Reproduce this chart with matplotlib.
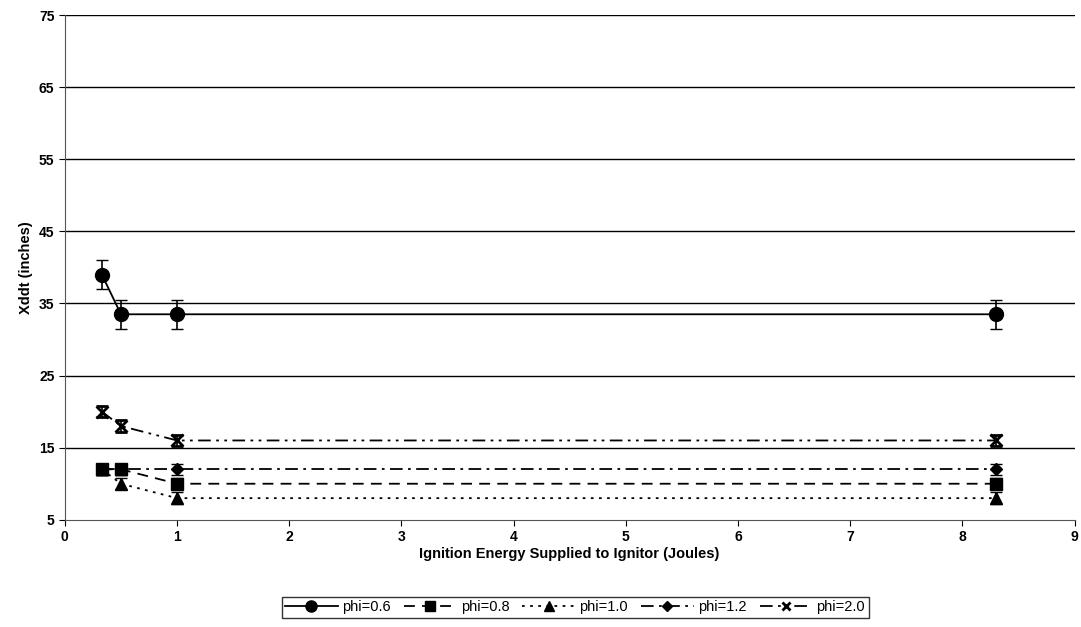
import matplotlib
matplotlib.use("Agg")
import matplotlib.pyplot as plt
from matplotlib.lines import Line2D

plt.rcParams["font.family"] = ["Liberation Sans", "DejaVu Sans"]

# ── Data ─────────────────────────────────────────────────────────────────────
energy = [0.33, 0.5, 1.0, 8.3]
phi06 = [39.0, 33.5, 33.5, 33.5]
phi08 = [12.0, 12.0, 10.0, 10.0]
phi10 = [12.0, 10.0, 8.0, 8.0]
phi12 = [12.0, 12.0, 12.0, 12.0]
phi20 = [20.0, 18.0, 16.0, 16.0]
err06 = [2.0, 2.0, 2.0, 2.0]
err_small = [0.8, 0.8, 0.8, 0.8]

fig = plt.figure(figsize=(10.81, 6.27), dpi=100)
ax = fig.add_axes([0.060, 0.171, 0.934, 0.805])

series = [
    ("phi=0.6", phi06, err06, "o", "-", 10),
    ("phi=0.8", phi08, err_small, "s", (0, (6, 4)), 9),
    ("phi=1.0", phi10, err_small, "^", (0, (1.5, 3)), 9),
    ("phi=1.2", phi12, err_small, "D", (0, (7, 3, 1.5, 3)), 6.5),
    ("phi=2.0", phi20, err_small, "x", (0, (7, 3, 1.5, 3, 1.5, 3)), 8),
]

handles = []
for label, vals, err, mk, ls, ms in series:
    mew = 2 if mk == "x" else 1
    ax.errorbar(energy, vals, yerr=err, color="black", marker=mk, linestyle=ls,
                linewidth=1.3, markersize=ms, capsize=4, elinewidth=1.2,
                markeredgewidth=mew)
    handles.append(Line2D([], [], color="black", marker=mk, linestyle=ls,
                          linewidth=1.3, markersize=ms * 0.8,
                          markeredgewidth=mew, label=label))

ax.set_xlim(0, 9)
ax.set_ylim(5, 75)
ax.set_xticks(range(0, 10))
ax.set_yticks(range(5, 80, 10))
for y in range(15, 80, 10):
    ax.axhline(y, color="black", linewidth=1.0, zorder=0)

ax.spines["top"].set_visible(False)
ax.spines["right"].set_visible(False)
ax.spines["left"].set_color("#555555")
ax.spines["bottom"].set_color("#555555")
ax.tick_params(labelsize=10, direction="out", length=4)
for t in ax.get_xticklabels() + ax.get_yticklabels():
    t.set_fontweight("bold")

ax.set_xlabel("Ignition Energy Supplied to Ignitor (Joules)", fontsize=10.5,
              fontweight="bold", labelpad=2)
ax.set_ylabel("Xddt (inches)", fontsize=10.5, fontweight="bold")

leg = fig.legend(handles=handles, loc="lower center", bbox_to_anchor=(0.532, 0.003),
                 ncol=5, fontsize=10.5, frameon=True, fancybox=False,
                 edgecolor="black", handlelength=3.6, columnspacing=0.9,
                 handletextpad=0.3, borderpad=0.25)
leg.get_frame().set_linewidth(1.0)

fig.savefig("out.png", dpi=100)
